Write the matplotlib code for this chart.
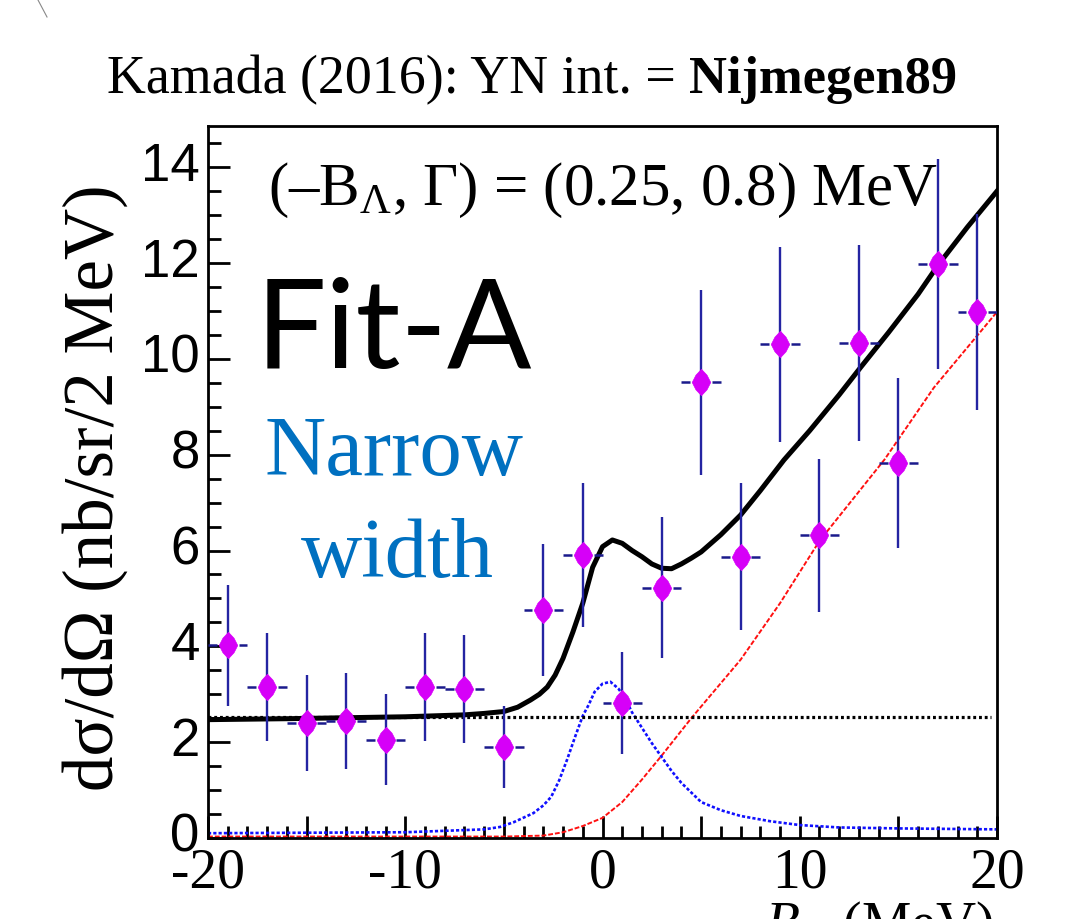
import matplotlib
matplotlib.use("Agg")
import matplotlib.pyplot as plt
from matplotlib.lines import Line2D
from matplotlib.ticker import MultipleLocator, FixedLocator

plt.rcParams['mathtext.fontset'] = 'custom'
plt.rcParams['mathtext.rm'] = 'Liberation Serif'
plt.rcParams['mathtext.it'] = 'Liberation Serif:italic'
plt.rcParams['mathtext.bf'] = 'Liberation Serif:bold'

# ---- data ----
data_x = [-19, -17, -15, -13, -11, -9, -7, -5, -3, -1, 1, 3, 5, 7, 9, 11, 13, 15, 17, 19]
data_y = [4.02, 3.15, 2.40, 2.44, 2.05, 3.15, 3.11, 1.90, 4.76, 5.91, 2.82, 5.22,
          9.51, 5.87, 10.30, 6.32, 10.33, 7.83, 11.98, 10.98]
data_err = [1.27, 1.12, 1.00, 1.00, 0.95, 1.12, 1.13, 0.86, 1.38, 1.50, 1.07, 1.47,
            1.93, 1.53, 2.03, 1.60, 2.05, 1.78, 2.20, 2.05]
bin_half = 1.0
bar_gap = 0.55

fit_x = [-20, -16, -10, -7, -6, -5, -4.3, -3.65, -3.2, -2.8, -2.4, -2.0, -1.5, -1.0,
         -0.5, 0.0, 0.5, 1.0, 1.5, 2.0, 2.5, 3.0, 3.5, 4.0, 4.5, 5.0, 6.0, 7.0, 8.0,
         9.2, 10.5, 12.0, 13.1, 14.5, 16.0, 17.0, 18.5, 20.0]
fit_y = [2.47, 2.49, 2.53, 2.57, 2.60, 2.64, 2.73, 2.88, 3.00, 3.15, 3.40, 3.75, 4.30,
         4.90, 5.65, 6.08, 6.22, 6.15, 6.00, 5.87, 5.72, 5.63, 5.62, 5.72, 5.84, 5.97,
         6.33, 6.74, 7.25, 7.89, 8.50, 9.25, 9.83, 10.55, 11.35, 11.95, 12.75, 13.50]

bw_x = [-20, -10, -6, -5.2, -4.5, -3.5, -3.0, -2.6, -2.2, -1.8, -1.4, -1.0, -0.7, -0.4,
        0.0, 0.4, 0.8, 1.1, 1.5, 2.0, 2.5, 3.0, 3.5, 4.0, 5.0, 6.0, 7.0, 8.5, 10.0,
        12.0, 15.0, 20.0]
bw_y = [0.10, 0.12, 0.18, 0.23, 0.33, 0.52, 0.68, 0.86, 1.20, 1.63, 2.10, 2.55, 2.78,
        3.05, 3.22, 3.26, 3.12, 2.95, 2.62, 2.30, 1.98, 1.69, 1.40, 1.15, 0.75, 0.58,
        0.46, 0.35, 0.27, 0.22, 0.20, 0.18]

ps_x = [-20, -5, -3, -2, -1, 0, 1, 2, 3, 4.5, 7, 9, 11, 14.3, 16.8, 20]
ps_y = [0.03, 0.03, 0.05, 0.12, 0.25, 0.42, 0.75, 1.22, 1.72, 2.50, 3.72, 4.90, 6.20,
        7.90, 9.40, 10.98]

bg_x = [-20, 19.7]
bg_y = [2.53, 2.53]

xtick_major = [-20, -15, -10, -5, 0, 5, 10, 15, 20]
xtick_labels = ['-20', '', '-10', '', '0', '', '10', '', '20']
ytick_major = [0, 2, 4, 6, 8, 10, 12, 14]
ytick_labels = ['0', '2', '4', '6', '8', '10', '12', '14']

# ---- figure ----
W, H = 1070, 919
fig = plt.figure(figsize=(W / 100, H / 100), dpi=100)
ax = fig.add_axes([208 / W, 1 - 838 / H, (997 - 208) / W, (838 - 126) / H])
ax.set_xlim(-20, 20)
ax.set_ylim(0, 14.86)

# curves
ax.plot(ps_x, ps_y, color='#ff1010', lw=1.4, ls=(0, (2.5, 1)), zorder=2)
ax.plot(bw_x, bw_y, color='#1010ff', lw=1.9, ls=(0, (1.2, 0.8)), zorder=2)
ax.plot(bg_x, bg_y, color='black', lw=2.3, ls=(0, (0.9, 0.9)), zorder=2)
ax.plot(fit_x, fit_y, color='black', lw=3.6, zorder=3, solid_joinstyle='round')

# data: x bars with a gap around the marker, y bars solid
ax.hlines(data_y, [x - bin_half for x in data_x], [x - bar_gap for x in data_x],
          colors='#1a1a8c', lw=1.8, zorder=4)
ax.hlines(data_y, [x + bar_gap for x in data_x], [x + bin_half for x in data_x],
          colors='#1a1a8c', lw=1.8, zorder=4)
ax.errorbar(data_x, data_y, yerr=data_err, fmt='none', ecolor='#2424a2',
            elinewidth=1.7, capsize=0, zorder=4)
blob = [(0, 1), (0.42, 0.55), (0.7, 0), (0.42, -0.55), (0, -1), (-0.42, -0.55),
        (-0.7, 0), (-0.42, 0.55), (0, 1)]
ax.plot(data_x, data_y, ls='none', marker=blob, ms=19, color='#d600f8',
        mec='#d600f8', mew=0.5, zorder=5)

# axes styling
for side in ['left', 'bottom', 'right', 'top']:
    ax.spines[side].set_linewidth(2.0)
ax.xaxis.set_major_locator(FixedLocator(xtick_major))
ax.set_xticklabels(xtick_labels)
ax.xaxis.set_minor_locator(MultipleLocator(1))
ax.yaxis.set_major_locator(FixedLocator(ytick_major))
ax.set_yticklabels(ytick_labels)
ax.yaxis.set_minor_locator(MultipleLocator(0.5))
ax.tick_params(which='both', direction='in', top=False, right=False, width=2.0)
ax.tick_params(which='major', length=16)
ax.tick_params(which='minor', length=9)
ax.tick_params(axis='x', pad=7)
ax.tick_params(axis='y', pad=6)
for lab in ax.get_xticklabels():
    lab.set_fontfamily('Liberation Serif')
    lab.set_fontsize(40)
for lab in ax.get_yticklabels():
    lab.set_fontfamily('Liberation Sans')
    lab.set_fontsize(38)
    lab.set_verticalalignment('center')

# texts
fig.text(689 / W, 1 - 93 / H, 'Kamada (2016): YN int. = ', ha='right', va='baseline',
         family='Liberation Serif', fontsize=38.8)
fig.text(689 / W, 1 - 93 / H, 'Nijmegen89', ha='left', va='baseline',
         family='Liberation Serif', fontsize=37.8, fontweight='bold')

fig.text(268 / W, 1 - 205 / H, r'(–B$_{\Lambda}$, Γ) = (0.25, 0.8) MeV', ha='left',
         va='baseline', family='Liberation Serif', fontsize=43.8)

fig.text(256 / W, 1 - 368 / H, 'Fit-A', ha='left', va='baseline', family='Lato',
         fontsize=90, color='black')

fig.text(394 / W, 1 - 475 / H, 'Narrow', ha='center', va='baseline',
         family='Liberation Serif', fontsize=61, color='#0070c0')
fig.text(397 / W, 1 - 577 / H, 'width', ha='center', va='baseline',
         family='Liberation Serif', fontsize=61, color='#0070c0')

fig.text(95 / W, 1 - 488 / H, 'dσ/dΩ (nb/sr/2 MeV)', rotation=90, ha='center',
         va='center', family='Liberation Serif', fontsize=51)

fig.text(864 / W, 1 - 900 / H, r'$-B_{\Lambda}$ (MeV)', ha='center', va='top',
         family='Liberation Serif', fontsize=40)

# small stray line at top-left
fig.add_artist(Line2D([38 / W, 47 / W], [1.0, 1 - 17 / H], color='#888888', lw=0.8))

fig.savefig('out.png', dpi=100)
